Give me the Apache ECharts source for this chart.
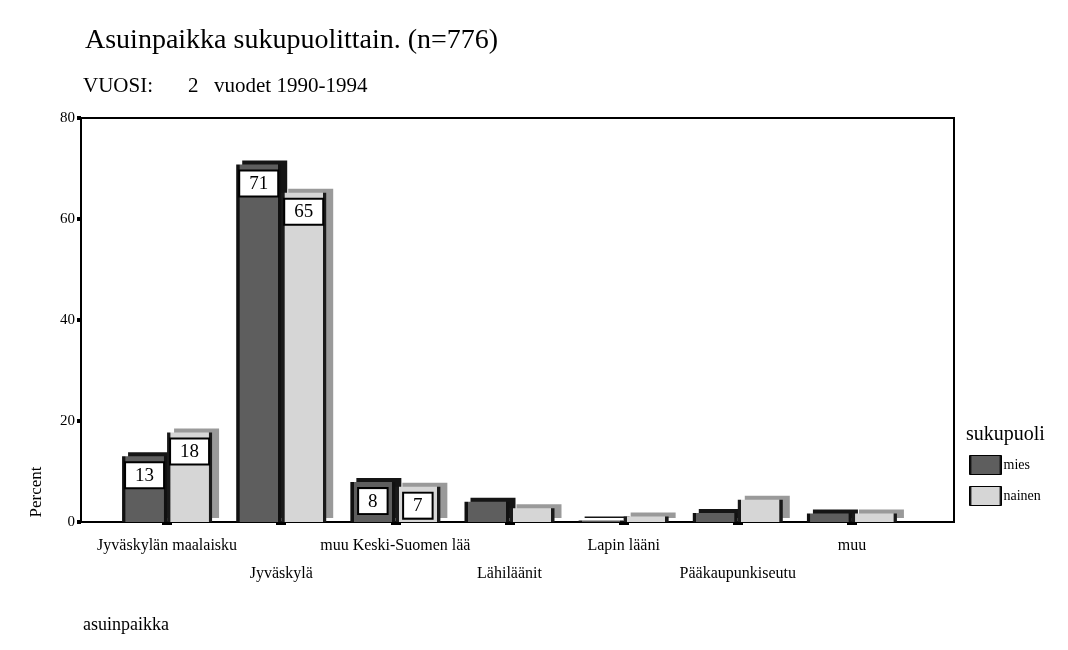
<!DOCTYPE html>
<html>
<head>
<meta charset="utf-8">
<script src="https://cdn.jsdelivr.net/npm/echarts@6/dist/echarts.min.js"></script>
<style>
  html, body { margin: 0; padding: 0; background: #fff; }
  #chart { width: 1068px; height: 650px; }
</style>
</head>
<body>
<div id="chart"></div>
<script>
// asuinpaikka categories
const categories = ['Jyväskylän maalaisku', 'Jyväskylä', 'muu Keski-Suomen lää', 'Lähiläänit', 'Lapin lääni', 'Pääkaupunkiseutu', 'muu']
// percent per sukupuoli
const mies = [13.0, 70.8, 7.9, 4.0, 0.3, 1.8, 1.7]
const nainen = [17.7, 65.2, 7.0, 2.7, 1.1, 4.4, 1.7]
const yTicks = [0, 20, 40, 60, 80]

const serif = 'Liberation Serif'

const chart = echarts.init(document.getElementById('chart'))

// bars get a boxed label only when tall enough
const withLabels = vals => vals.map(v => ({ value: v, label: { show: v >= 5 } }))

// dark edges left/right to fake the outline of the old 3d bars
const edged = (edge, mid) => new echarts.graphic.LinearGradient(0, 0, 1, 0, [
  { offset: 0, color: edge },
  { offset: 0.07, color: edge },
  { offset: 0.08, color: mid },
  { offset: 0.92, color: mid },
  { offset: 0.93, color: edge },
  { offset: 1, color: edge }
])

const barLabel = {
  position: 'insideTop',
  distance: 7,
  formatter: p => Math.round(p.value),
  backgroundColor: '#fff',
  borderColor: '#000',
  borderWidth: 2,
  padding: [3, 9, 2, 9],
  color: '#000',
  fontFamily: serif,
  fontSize: 19,
  textShadowBlur: 0
}

const option = {
  animation: false,
  backgroundColor: '#fff',
  textStyle: { fontFamily: serif },
  title: [
    { text: 'Asuinpaikka sukupuolittain. (n=776)', left: 80, top: 22,
      textStyle: { fontFamily: serif, fontSize: 28, fontWeight: 'normal', color: '#000' } },
    { text: 'sukupuoli', left: 961, top: 420,
      textStyle: { fontFamily: serif, fontSize: 20, fontWeight: 'normal', color: '#000' } }
  ],
  graphic: [
    { type: 'text', left: 83, top: 76, style: { text: 'VUOSI:', font: '21px "Liberation Serif"', fill: '#000' } },
    { type: 'text', left: 188, top: 76, style: { text: '2', font: '21px "Liberation Serif"', fill: '#000' } },
    { type: 'text', left: 214, top: 76, style: { text: 'vuodet 1990-1994', font: '21px "Liberation Serif"', fill: '#000' } },
    { type: 'text', x: 28, y: 492, rotation: Math.PI / 2, style: { text: 'Percent', font: '17px "Liberation Serif"', fill: '#000', align: 'center', verticalAlign: 'top' } },
    { type: 'text', left: 83, top: 616, style: { text: 'asuinpaikka', font: '18px "Liberation Serif"', fill: '#000' } }
  ],
  legend: {
    orient: 'vertical',
    left: 964,
    top: 450,
    icon: 'rect',
    itemWidth: 32,
    itemHeight: 19,
    itemGap: 11,
    data: ['mies', 'nainen'],
    itemStyle: { borderColor: '#000', borderWidth: 1, shadowBlur: 0, shadowOffsetX: 0, shadowOffsetY: 0, shadowColor: 'transparent' },
    textStyle: { fontFamily: serif, fontSize: 14, color: '#000', padding: [6, 0, 0, -3] }
  },
  grid: [
    // outer frame with the percent axis
    { left: 81, right: 114, top: 118, bottom: 128, show: true, borderColor: '#000', borderWidth: 2, backgroundColor: 'transparent' },
    // bars
    { left: 110, right: 159, top: 118, bottom: 128 }
  ],
  xAxis: [
    { gridIndex: 0, type: 'value', show: false, min: 0, max: 1 },
    {
      gridIndex: 1,
      type: 'category',
      data: categories,
      axisLine: { show: false },
      axisTick: { show: true, alignWithLabel: true, length: 3, lineStyle: { color: '#000', width: 10 } },
      axisLabel: {
        interval: 0,
        margin: 10,
        color: '#000',
        fontFamily: serif,
        fontSize: 16,
        lineHeight: 28,
        formatter: (v, i) => (i % 2 ? '\n' + v : v)
      }
    }
  ],
  yAxis: [
    {
      gridIndex: 0,
      type: 'value',
      min: yTicks[0],
      max: yTicks[yTicks.length - 1],
      interval: 20,
      splitLine: { show: false },
      axisLine: { show: true, lineStyle: { color: '#000', width: 2 } },
      axisTick: { show: true, length: 4, lineStyle: { color: '#000', width: 4 } },
      axisLabel: { color: '#000', fontFamily: serif, fontSize: 15, margin: 6 }
    },
    { gridIndex: 1, type: 'value', min: 0, max: 80, show: false }
  ],
  series: [
    {
      name: 'mies',
      type: 'bar',
      xAxisIndex: 1,
      yAxisIndex: 1,
      barWidth: 45,
      barGap: '0%',
      data: withLabels(mies),
      itemStyle: {
        color: edged('#111', '#5e5e5e'),
        borderWidth: 0,
        shadowColor: '#151515',
        shadowOffsetX: 6,
        shadowOffsetY: -4,
        shadowBlur: 0
      },
      label: barLabel
    },
    {
      name: 'nainen',
      type: 'bar',
      xAxisIndex: 1,
      yAxisIndex: 1,
      barWidth: 45,
      barGap: '0%',
      data: withLabels(nainen),
      itemStyle: {
        color: edged('#1a1a1a', '#d6d6d6'),
        borderWidth: 0,
        shadowColor: '#9a9a9a',
        shadowOffsetX: 7,
        shadowOffsetY: -4,
        shadowBlur: 0
      },
      label: barLabel
    }
  ]
}

chart.setOption(option)
window.addEventListener('resize', () => chart.resize())
</script>
</body>
</html>
